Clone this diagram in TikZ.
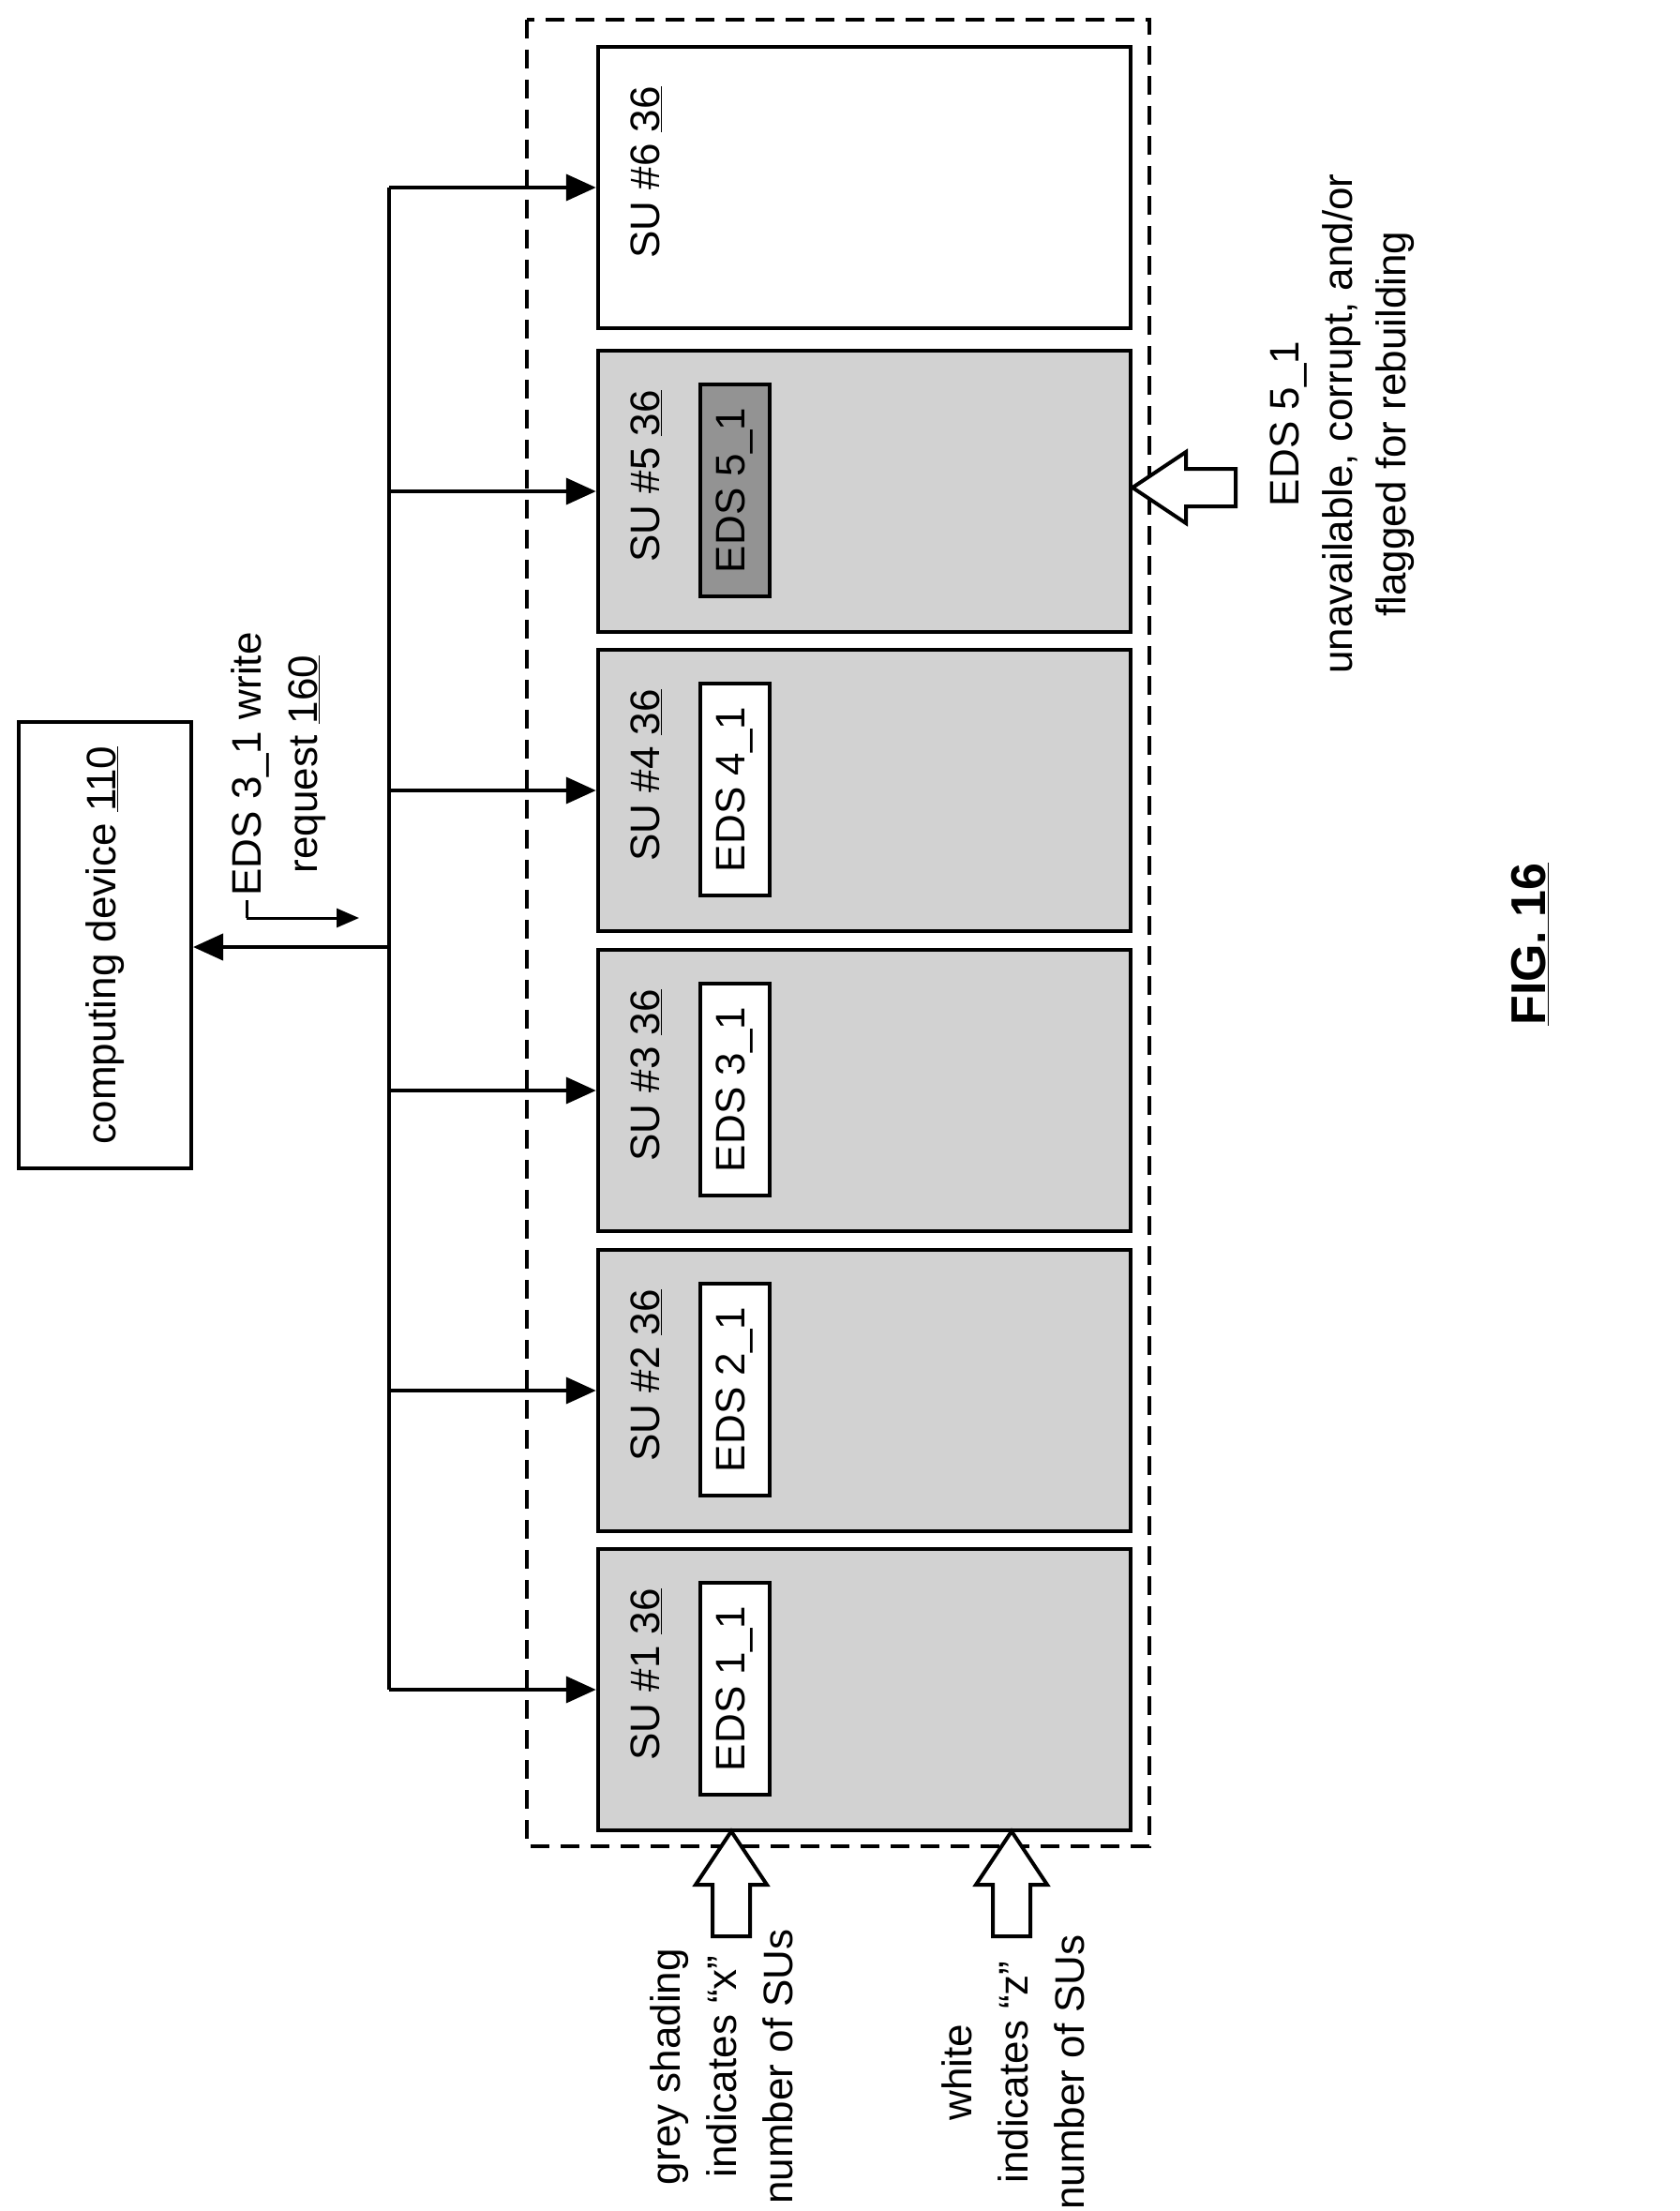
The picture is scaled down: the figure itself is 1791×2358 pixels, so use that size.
\documentclass[tikz,border=0pt]{standalone}
\usepackage{fontspec}
\setmainfont{Liberation Sans}
\usetikzlibrary{arrows.meta}
\begin{document}
\begin{tikzpicture}[x=1pt,y=1pt,
  su/.style={draw,line width=4.5pt,minimum width=568pt,minimum height=300pt,inner sep=0pt},
  eds/.style={draw,line width=4pt,minimum width=226pt,minimum height=74pt,inner sep=0pt,font=\fontsize{44}{56}\selectfont,rotate=90},
  lbl/.style={font=\fontsize{44}{60}\selectfont,rotate=90,inner sep=0pt,align=center},
  arr/.style={line width=4pt,-{Triangle[length=32pt,width=28pt]}},
  hollow/.style={draw,line width=4pt,fill=white}]
\useasboundingbox (0,0) rectangle (1791,-2358);
\draw[line width=3.5pt,dash pattern=on 20pt off 12pt] (562,-21) rectangle (1226,-1969);
\foreach \i/\t/\f in {6/50/white,5/374/gray!35,4/693/gray!35,3/1013/gray!35,2/1333/gray!35,1/1652/gray!35}{
  \node[su,fill=\f] (su\i) at (922,-\t-150) {};
  \node[lbl,anchor=east] (sul\i) at (689,-\t-42) {SU \#\i{} \underline{36}};
  \coordinate (b\i) at (415,-\t-150);
  \draw[arr] (b\i) -- (su\i.west |- b\i);
}
\foreach \i/\t/\f in {5/374/gray!85,4/693/white,3/1013/white,2/1333/white,1/1652/white}{
  \node[eds,fill=\f] (e\i) at (784,-\t-149) {EDS \i\_1};
}
\draw[line width=4pt] (b6) -- (b1);
% computing device
\node[draw,line width=4pt,minimum width=184pt,minimum height=476pt,inner sep=0pt] (cd) at (112,-1008) {};
\node[lbl] (cdt) at (cd.center) {computing device \underline{110}};
\coordinate (bm) at (415,-1010);
\draw[arr] (bm) -- (cd.east |- bm);
\coordinate (sa) at (263,-979);
\coordinate (sb) at (383,-979);
\draw[line width=3pt,-{Triangle[length=24pt,width=20pt]}] (sa) -- (sb);
\draw[line width=3pt] (263,-960) -- (263,-979);
\node[lbl] (req) at (297,-815) {EDS 3\_1 write\\request \underline{160}};
% hollow up arrows
\foreach \c/\n in {780/ga,1079/wa}{
  \draw[hollow] (\c,-1953) coordinate (\n) -- (\c+38,-2010) -- (\c+20,-2010) -- (\c+20,-2065) -- (\c-20,-2065) -- (\c-20,-2010) -- (\c-38,-2010) -- cycle;
}
\node[lbl] (gt) at (770,-2204) {grey shading\\indicates “x”\\number of SUs};
\node[lbl] (wt) at (1081,-2210) {white\\indicates “z”\\number of SUs};
% hollow left arrow
\draw[hollow] (1208,-520) coordinate (la) -- (1265,-482) -- (1265,-500) -- (1318,-500) -- (1318,-540) -- (1265,-540) -- (1265,-558) -- cycle;
\node[lbl,font=\fontsize{44}{57}\selectfont] (rt) at (1432,-452) {EDS 5\_1\\unavailable, corrupt, and/or\\flagged for rebuilding};
% fig label
\node[lbl,font=\bfseries\fontsize{52}{60}\selectfont] (fig) at (1632,-1007) {\underline{FIG. 16}};
\end{tikzpicture}
\end{document}
